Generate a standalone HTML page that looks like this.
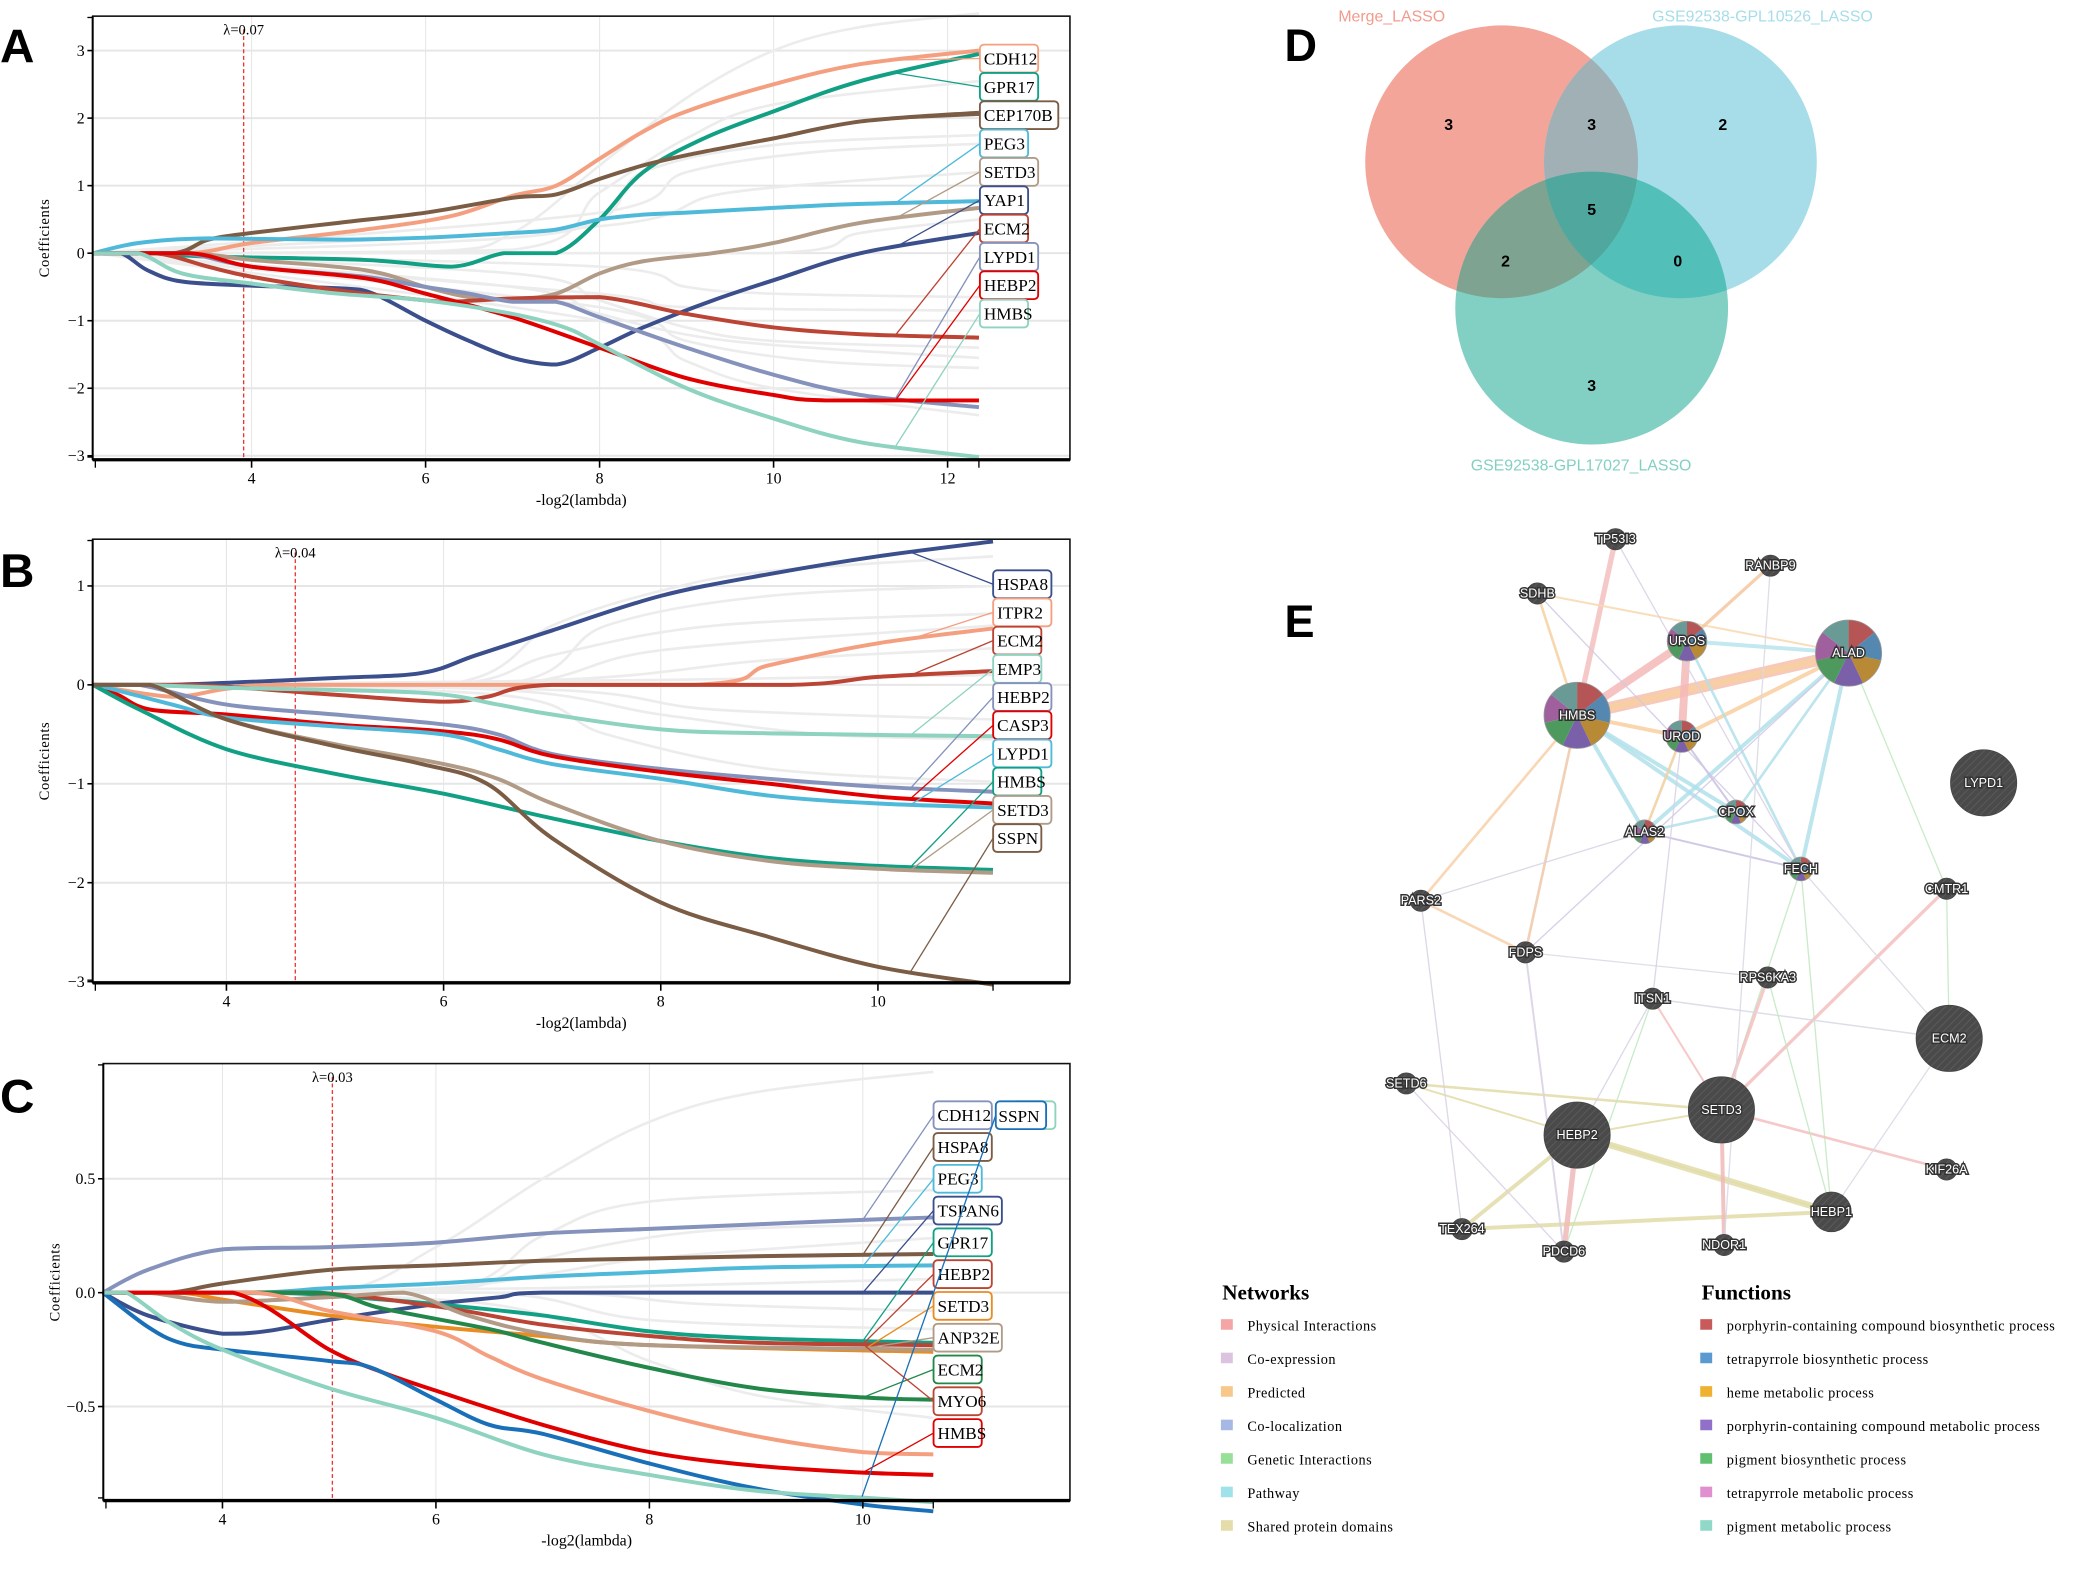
<!DOCTYPE html>
<html><head><meta charset="utf-8"><style>
html,body{margin:0;padding:0;background:#fff}
svg{display:block}
.t{font-family:"Liberation Serif",serif;fill:#000}
.s{font-family:"Liberation Sans",sans-serif}
.nl{font-family:"Liberation Sans",sans-serif;font-size:9.5px;fill:#fff;stroke:#333;stroke-width:2.2px;paint-order:stroke;text-anchor:middle;dominant-baseline:central}
</style></head><body>
<svg id="g" width="2075" height="1571" viewBox="0 0 1567 1186" xmlns="http://www.w3.org/2000/svg">
<defs>
<pattern id="hatch" width="4" height="4" patternUnits="userSpaceOnUse" patternTransform="rotate(45)">
<rect width="4" height="4" fill="#4a4a4a"/><line x1="0" y1="0" x2="0" y2="4" stroke="#5a5a5a" stroke-width="1.5"/></pattern>
<clipPath id="cR"><circle cx="1134" cy="122" r="103"/></clipPath>
<clipPath id="cB"><circle cx="1269" cy="122" r="103"/></clipPath>
<clipPath id="cG"><circle cx="1202" cy="232.5" r="103"/></clipPath>
</defs>
<g id="root"></g>
<text x="0" y="47" class="s" font-size="36" font-weight="bold">A</text>
<text x="0" y="443" class="s" font-size="36" font-weight="bold">B</text>
<text x="0" y="840" class="s" font-size="36" font-weight="bold">C</text>
<text x="970" y="46" class="s" font-size="34" font-weight="bold">D</text>
<text x="970" y="481" class="s" font-size="34" font-weight="bold">E</text>
<circle cx="1134" cy="122" r="103" fill="#f3a599"/>
<circle cx="1269" cy="122" r="103" fill="#a6dde9"/>
<circle cx="1202" cy="232.5" r="103" fill="#82d0c3"/>
<g clip-path="url(#cR)"><circle cx="1269" cy="122" r="103" fill="#a0b0b5"/><circle cx="1202" cy="232.5" r="103" fill="#7ea390"/></g>
<g clip-path="url(#cB)"><circle cx="1202" cy="232.5" r="103" fill="#52bfb9"/></g>
<g clip-path="url(#cR)"><g clip-path="url(#cB)"><circle cx="1202" cy="232.5" r="103" fill="#4fa79e"/></g></g>
<g class="s" font-size="12" font-weight="bold" text-anchor="middle">
<text x="1094" y="98">3</text><text x="1202" y="98">3</text><text x="1301" y="98">2</text>
<text x="1202" y="162">5</text><text x="1137" y="201">2</text><text x="1267" y="201">0</text><text x="1202" y="295">3</text></g>
<g class="s" font-size="12" text-anchor="middle">
<text x="1051" y="16" fill="#f29a8c">Merge_LASSO</text>
<text x="1331" y="16" fill="#a6dde9">GSE92538-GPL10526_LASSO</text>
<text x="1194" y="355" fill="#82d0c3">GSE92538-GPL17027_LASSO</text></g>
<g id="net"></g>
<g class="t" font-size="11" fill="#333">
<text x="923" y="981" font-size="16" font-weight="bold">Networks</text>
<text x="1285" y="981" font-size="16" font-weight="bold">Functions</text>
</g>
<g id="leg"></g>
</svg>
<script>
var NS="http://www.w3.org/2000/svg";
var root=document.getElementById('root');
function el(tag,at,par,txt){var e=document.createElementNS(NS,tag);for(var k in at)e.setAttribute(k,at[k]);if(txt!==undefined)e.textContent=txt;(par||root).appendChild(e);return e;}
function cl(v,a,b){var lo=Math.min(a,b),hi=Math.max(a,b);return Math.max(lo,Math.min(hi,v));}
function smooth(p){var d="M"+p[0][0].toFixed(1)+","+p[0][1].toFixed(1);for(var i=0;i<p.length-1;i++){var p0=p[i-1]||p[i],p1=p[i],p2=p[i+1],p3=p[i+2]||p2;var c1=[p1[0]+(p2[0]-p0[0])/6,p1[1]+(p2[1]-p0[1])/6],c2=[p2[0]-(p3[0]-p1[0])/6,p2[1]-(p3[1]-p1[1])/6];
 c1[1]=cl(c1[1],p1[1],p2[1]);c2[1]=cl(c2[1],p1[1],p2[1]);c1[0]=cl(c1[0],p1[0],p2[0]);c2[0]=cl(c2[0],p1[0],p2[0]);
 d+="C"+c1[0].toFixed(1)+","+c1[1].toFixed(1)+" "+c2[0].toFixed(1)+","+c2[1].toFixed(1)+" "+p2[0].toFixed(1)+","+p2[1].toFixed(1);}return d;}
function interp(pts,x){if(x<=pts[0][0])return pts[0][1];for(var i=0;i<pts.length-1;i++){if(x<=pts[i+1][0]){var t=(x-pts[i][0])/(pts[i+1][0]-pts[i][0]);return pts[i][1]+t*(pts[i+1][1]-pts[i][1]);}}return pts[pts.length-1][1];}
function panel(P){
 var X=function(x){return P.x0px+(x-P.x0)*P.sx},Y=function(y){return P.y0px-y*P.sy};
 var L=P.L,R=P.R,T=P.T,B=P.B;
 P.xt.forEach(function(v){el('line',{x1:X(v),x2:X(v),y1:T,y2:B,stroke:'#e6e6e6','stroke-width':0.8});});
 P.yt.forEach(function(v){el('line',{x1:L,x2:R,y1:Y(v),y2:Y(v),stroke:'#e6e6e6','stroke-width':1.5});});
 P.grey.forEach(function(g){el('path',{d:smooth(g.map(function(q){return[X(q[0]),Y(q[1])]})),fill:'none',stroke:'#ececec','stroke-width':2});});
 el('line',{x1:P.lam,x2:P.lam,y1:T+10,y2:B,stroke:'#e33','stroke-width':1,'stroke-dasharray':'3,2'});
 el('text',{x:P.lam,y:T+14,'font-size':11,'text-anchor':'middle',class:'t'},root,P.lamt);
 P.S.forEach(function(s){var pts=s.p.slice();if(pts[0][0]>P.xs+0.01)pts=[[P.xs,0]].concat(pts);if(pts[pts.length-1][0]<P.xe-0.01)pts.push([P.xe,pts[pts.length-1][1]]);
  el('path',{d:smooth(pts.map(function(q){return[X(q[0]),Y(q[1])]})),fill:'none',stroke:s.c,'stroke-width':3,'stroke-linejoin':'round'});});
 el('rect',{x:L,y:T,width:R-L,height:B-T,fill:'none',stroke:'#111','stroke-width':1.2});
 el('line',{x1:L,x2:R,y1:B,y2:B,stroke:'#000','stroke-width':2.5});
 el('line',{x1:L,x2:L,y1:T,y2:B,stroke:'#000','stroke-width':1.5});
 P.xt.forEach(function(v){el('line',{x1:X(v),x2:X(v),y1:B,y2:B+6,stroke:'#000','stroke-width':1.2});el('text',{x:X(v),y:B+18,'font-size':12,'text-anchor':'middle',class:'t'},root,String(v));});
 el('line',{x1:L+2,x2:L+2,y1:B,y2:B+6,stroke:'#000'});el('line',{x1:X(P.xe),x2:X(P.xe),y1:B,y2:B+6,stroke:'#000'});
 P.yt.forEach(function(v){el('line',{x1:L-4,x2:L,y1:Y(v),y2:Y(v),stroke:'#000','stroke-width':1.2});el('text',{x:L-6,y:Y(v)+4,'font-size':12,'text-anchor':'end',class:'t'},root,P.yf?P.yf(v):String(v).replace('-','\u2212'));});
 el('line',{x1:L-4,x2:L,y1:T+1,y2:T+1,stroke:'#000'});el('line',{x1:L-4,x2:L,y1:B-2,y2:B-2,stroke:'#000'});
 el('text',{x:(L+R)/2,y:B+34,'font-size':12,'text-anchor':'middle',class:'t'},root,'-log2(lambda)');
 el('text',{x:0,y:0,'font-size':11,'text-anchor':'middle',class:'t',transform:'translate('+(L-33)+','+((T+B)/2)+') rotate(-90)','letter-spacing':'0.5'},root,'Coefficients');
 P.lab.forEach(function(l,i){var ly=P.ly0+i*P.ld;var s=P.S[l.i];var yy=interp(s.p,P.cx);
  el('line',{x1:X(P.cx),y1:Y(yy),x2:P.bx,y2:ly,stroke:s.c,'stroke-width':1});});
 P.lab.forEach(function(l,i){var ly=P.ly0+i*P.ld;var s=P.S[l.i];var w=l.t.length*7.6+6;
  el('rect',{x:P.bx,y:ly-10.5,width:w,height:21,rx:3,fill:'#fff',stroke:s.c,'stroke-width':1.4});
  el('text',{x:P.bx+3,y:ly+4.5,'font-size':13,class:'t'},root,l.t);});
}
var C={salmon:'#f4a080',teal:'#12a085',brown:'#7b5c45',lb:'#4fb9d9',tan:'#b19b86',navy:'#3b4f8c',dred:'#bb4434',slate:'#8592bb',red:'#e00000',mint:'#8ed2c0',orange:'#e88c24',dgreen:'#23874a',blue:'#1a70b8'};
panel({L:70,R:808,T:12,B:347,x0:4,x0px:190,sx:65.7,y0px:191,sy:51,xs:2.17,xe:12.36,xt:[4,6,8,10,12],yt:[-3,-2,-1,0,1,2,3],lam:184,lamt:'\u03bb=0.07',
 grey:[[[2.2,0],[6,0.02],[7,0.3],[8,1.3],[9,2.3],[10,3.0],[11,3.35],[12.36,3.55]],[[2.2,0],[7,0.05],[8,0.9],[9,1.7],[10,2.2],[12.36,2.55]],[[2.2,0],[7.5,0.3],[8.5,1.2],[10,1.6],[12.36,1.75]],[[2.2,0],[8,0.6],[9,1.2],[10.5,1.5],[12.36,1.62]],[[2.2,0],[8,0.4],[9.5,0.9],[12.36,1.2]],[[2.2,0],[10,0.0],[11,0.3],[12.36,0.5]],[[2.2,0],[8,-0.2],[9,-0.5],[10,-0.6],[12.36,-0.65]],[[2.2,0],[8,-0.6],[9,-0.8],[12.36,-0.85]],[[2.2,0],[7,-0.3],[8,-0.7],[9,-1.1],[10,-1.3],[12.36,-1.4]],[[2.2,0],[7,-0.5],[8,-0.9],[9.5,-1.3],[12.36,-1.55]],[[2.2,0],[8,-0.8],[9,-1.3],[10.5,-1.6],[12.36,-1.7]],[[2.2,0],[8,-1.0],[9,-1.6],[10,-2.0],[12.36,-2.4]]],
 S:[{c:C.salmon,p:[[3.3,0],[4,0.15],[5.3,0.35],[6.3,0.55],[7,0.85],[7.5,1.0],[8,1.4],[8.5,1.8],[9,2.1],[10,2.5],[11,2.8],[12.36,3.0]]},
 {c:C.teal,p:[[2.8,0],[3.5,-0.05],[5.3,-0.1],[6.3,-0.2],[6.9,0],[7.5,0],[8,0.5],[8.5,1.2],[9.2,1.7],[10,2.1],[11,2.55],[12.36,2.95]]},
 {c:C.brown,p:[[3.1,0],[3.5,0.2],[4,0.3],[5,0.45],[6,0.6],[7,0.82],[7.5,0.87],[8,1.1],[8.5,1.3],[9,1.45],[10,1.7],[11,1.95],[12.36,2.08]]},
 {c:C.lb,p:[[2.18,0],[2.7,0.15],[3.5,0.22],[5,0.2],[6,0.23],[7,0.3],[7.5,0.35],[8,0.5],[8.5,0.57],[9,0.6],[10,0.67],[11,0.73],[12.36,0.77]]},
 {c:C.tan,p:[[3.3,0],[4,-0.1],[5.3,-0.25],[6,-0.5],[6.5,-0.65],[7,-0.68],[7.5,-0.6],[8,-0.3],[8.5,-0.12],[9.3,0],[10,0.15],[11,0.45],[12.36,0.67]]},
 {c:C.navy,p:[[2.5,0],[2.8,-0.25],[3.2,-0.42],[4,-0.48],[5,-0.52],[5.4,-0.6],[6,-1.0],[6.5,-1.3],[7,-1.55],[7.5,-1.65],[8,-1.4],[8.5,-1.1],[9.3,-0.7],[10,-0.4],[11,0],[12.36,0.3]]},
 {c:C.dred,p:[[2.9,0],[3.5,-0.2],[4,-0.35],[5,-0.55],[6,-0.7],[6.3,-0.72],[7,-0.67],[8,-0.65],[9,-0.9],[10,-1.1],[11,-1.2],[12.36,-1.25]]},
 {c:C.slate,p:[[3.2,0],[4,-0.2],[5.3,-0.35],[6,-0.5],[6.5,-0.6],[7,-0.72],[7.5,-0.72],[8,-0.95],[9,-1.4],[10,-1.8],[11,-2.1],[12.36,-2.28]]},
 {c:C.red,p:[[3.3,0],[4,-0.2],[5.3,-0.37],[6,-0.6],[7,-0.95],[8,-1.4],[9,-1.85],[10,-2.1],[10.6,-2.18],[12.36,-2.18]]},
 {c:C.mint,p:[[2.7,0],[3.2,-0.3],[4,-0.45],[5,-0.6],[6,-0.7],[7,-0.9],[7.6,-1.1],[8,-1.35],[9,-2.0],[10,-2.45],[11,-2.8],[12.36,-3.02]]}],
 cx:11.4,bx:740,ly0:44,ld:21.4,lab:[{i:0,t:'CDH12'},{i:1,t:'GPR17'},{i:2,t:'CEP170B'},{i:3,t:'PEG3'},{i:4,t:'SETD3'},{i:5,t:'YAP1'},{i:6,t:'ECM2'},{i:7,t:'LYPD1'},{i:8,t:'HEBP2'},{i:9,t:'HMBS'}]});
panel({L:70,R:808,T:407,B:742,x0:4,x0px:171,sx:82,y0px:517,sy:74.7,xs:2.77,xe:11.06,xt:[4,6,8,10],yt:[-3,-2,-1,0,1],lam:223,lamt:'\u03bb=0.04',
 grey:[[[2.8,0],[6,0],[7,0.6],[8,0.95],[9,1.15],[11.06,1.3]],[[2.8,0],[6.5,0],[7.5,0.6],[9,0.9],[11.06,1.0]],[[2.8,0],[6,0],[7,0.3],[8.5,0.6],[11.06,0.72]],[[2.8,0],[6.5,0],[8,0.35],[11.06,0.6]],[[2.8,0],[7,0.05],[9,0.25],[11.06,0.37]],[[2.8,0],[8,0.05],[11.06,0.1]],[[2.8,0],[7,-0.05],[8.5,-0.25],[11.06,-0.35]],[[2.8,0],[6.5,-0.05],[8,-0.3],[9.5,-0.5],[11.06,-0.55]],[[2.8,0],[6.5,-0.1],[7.5,-0.5],[9,-0.85],[11.06,-0.98]]],
 S:[{c:C.navy,p:[[3.5,0],[5,0.07],[5.8,0.12],[6.3,0.3],[7,0.55],[8,0.9],[9,1.12],[10,1.3],[11.06,1.45]]},
 {c:C.salmon,p:[[2.77,0],[3.5,-0.12],[4,-0.04],[4.5,0],[8.3,0],[9,0.2],[10,0.42],[11.06,0.57]]},
 {c:C.dred,p:[[2.77,0],[3.7,0],[5,-0.1],[6,-0.17],[6.4,-0.12],[7,0],[9.2,0],[10,0.08],[11.06,0.14]]},
 {c:C.mint,p:[[3.2,0],[4,-0.03],[5.8,-0.08],[6.5,-0.2],[7,-0.3],[8,-0.45],[9,-0.49],[11.06,-0.52]]},
 {c:C.slate,p:[[3.2,0],[4,-0.2],[5,-0.3],[6,-0.4],[6.5,-0.5],[7,-0.7],[8,-0.85],[9,-0.95],[10,-1.03],[11.06,-1.08]]},
 {c:C.red,p:[[2.77,0],[3,-0.1],[3.3,-0.25],[4,-0.3],[5,-0.4],[6,-0.47],[6.5,-0.55],[7,-0.72],[8,-0.88],[9,-1.0],[10,-1.13],[11.06,-1.2]]},
 {c:C.lb,p:[[2.8,0],[3.5,-0.2],[4,-0.33],[5,-0.42],[6,-0.5],[6.5,-0.65],[7,-0.8],[8,-0.95],[9,-1.12],[10,-1.2],[11.06,-1.24]]},
 {c:C.teal,p:[[2.77,0],[3.2,-0.25],[4,-0.65],[5,-0.9],[6,-1.1],[7,-1.35],[8,-1.58],[9,-1.75],[10,-1.83],[11.06,-1.87]]},
 {c:C.tan,p:[[3.3,0],[4,-0.35],[5,-0.6],[6,-0.8],[6.5,-0.95],[7,-1.2],[8,-1.58],[9,-1.78],[10,-1.86],[11.06,-1.9]]},
 {c:C.brown,p:[[3.3,0],[4,-0.35],[5,-0.62],[5.8,-0.8],[6.4,-1.0],[7,-1.55],[8,-2.2],[9,-2.55],[10,-2.85],[11.06,-3.03]]}],
 cx:10.3,bx:750,ly0:441,ld:21.3,lab:[{i:0,t:'HSPA8'},{i:1,t:'ITPR2'},{i:2,t:'ECM2'},{i:3,t:'EMP3'},{i:4,t:'HEBP2'},{i:5,t:'CASP3'},{i:6,t:'LYPD1'},{i:7,t:'HMBS'},{i:8,t:'SETD3'},{i:9,t:'SSPN'}]});
panel({L:78,R:808,T:803,B:1133,x0:4,x0px:168,sx:80.6,y0px:976,sy:172,xs:2.88,xe:10.66,xt:[4,6,8,10],yt:[-0.5,0,0.5],yf:function(v){return (v<0?'\u22120.5':v.toFixed(1));},lam:251,lamt:'\u03bb=0.03',
 grey:[[[2.9,0],[5,0],[6,0.2],[7,0.5],[8,0.75],[9,0.88],[10.66,0.97]],[[2.9,0],[6,0],[7,0.25],[8,0.4],[10.66,0.45]],[[2.9,0],[6,0],[7,0.15],[8.5,0.27],[10.66,0.3]],[[2.9,0],[6,0.02],[8,0.15],[10.66,0.24]],[[2.9,0],[7,0],[8.5,-0.05],[10.66,-0.08]],[[2.9,0],[6.5,0],[8,-0.12],[10.66,-0.16]],[[2.9,0],[6.5,-0.05],[8,-0.3],[9,-0.45],[10.66,-0.55]],[[2.9,0],[7,0.02],[10.66,0.06]]],
 S:[{c:C.slate,p:[[2.88,0],[3.3,0.1],[4,0.19],[5,0.2],[6,0.22],[7,0.26],[8,0.28],[9,0.3],[10,0.32],[10.66,0.33]]},
 {c:C.brown,p:[[3.5,0],[4,0.04],[5,0.1],[6,0.12],[7,0.14],[8,0.15],[9,0.16],[10.66,0.17]]},
 {c:C.lb,p:[[4.3,0],[5,0.02],[6,0.04],[7,0.07],[8,0.09],[9,0.11],[10.66,0.12]]},
 {c:C.navy,p:[[2.88,0],[3.3,-0.1],[4,-0.18],[4.4,-0.17],[5,-0.12],[6,-0.05],[6.6,-0.02],[7,0],[10.66,0]]},
 {c:C.teal,p:[[4.5,0],[5.5,-0.03],[6,-0.05],[7,-0.1],[8,-0.17],[9,-0.2],[10.66,-0.22]]},
 {c:C.dred,p:[[4.8,0],[6,-0.06],[7,-0.14],[8,-0.19],[9,-0.22],[10.66,-0.23]]},
 {c:C.orange,p:[[3.6,0],[4,-0.03],[5,-0.1],[6,-0.15],[7,-0.19],[8,-0.23],[10.66,-0.26]]},
 {c:C.tan,p:[[3.3,0],[4,-0.04],[5,-0.02],[5.7,0],[6.3,-0.1],[7,-0.18],[8,-0.23],[10.66,-0.25]]},
 {c:C.dgreen,p:[[3.3,0],[4.9,0],[5.5,-0.07],[6.5,-0.16],[7,-0.22],[8,-0.33],[9,-0.42],[10,-0.46],[10.66,-0.47]]},
 {c:C.salmon,p:[[4.3,0],[5,-0.08],[6,-0.17],[6.5,-0.28],[7,-0.38],[8,-0.52],[9,-0.63],[10,-0.7],[10.66,-0.71]]},
 {c:C.red,p:[[4.1,0],[5,-0.25],[5.5,-0.35],[6,-0.43],[7,-0.58],[8,-0.7],[9,-0.76],[10,-0.79],[10.66,-0.8]]},
 {c:C.blue,p:[[2.88,0],[3.3,-0.15],[3.6,-0.22],[4,-0.25],[5,-0.3],[5.4,-0.33],[6,-0.47],[6.5,-0.58],[7,-0.62],[8,-0.75],[9,-0.86],[10,-0.93],[10.66,-0.96]]},
 {c:C.mint,p:[[3.1,0],[3.5,-0.13],[4,-0.25],[5,-0.42],[6,-0.55],[7,-0.71],[8,-0.8],[9,-0.87],[10,-0.9],[10.66,-0.92]]}],
 cx:10,bx:705,ly0:842,ld:24,lab:[{i:0,t:'CDH12'},{i:1,t:'HSPA8'},{i:2,t:'PEG3'},{i:3,t:'TSPAN6'},{i:4,t:'GPR17'},{i:5,t:'HEBP2'},{i:6,t:'SETD3'},{i:7,t:'ANP32E'},{i:8,t:'ECM2'},{i:5,t:'MYO6'},{i:10,t:'HMBS'}]});
el('line',{x1:651,y1:1130,x2:752,y2:842,stroke:C.blue,'stroke-width':1});
el('rect',{x:765,y:831.5,width:32,height:21,rx:3,fill:'#fff',stroke:C.mint,'stroke-width':1.4});
el('text',{x:785,y:847,'font-size':13,class:'t'},root,'1');
el('rect',{x:752,y:831.5,width:38,height:21,rx:3,fill:'#fff',stroke:C.blue,'stroke-width':1.4});
el('text',{x:754,y:847,'font-size':13,class:'t'},root,'SSPN');

var net=document.getElementById('net');
var N={TP53I3:[1220,407,8],RANBP9:[1337,427,8],SDHB:[1161,448,8],UROS:[1274,484,15],ALAD:[1396,493,25],HMBS:[1191,540,25],UROD:[1270,556,12],CPOX:[1311,613,8],ALAS2:[1242,628,8],FECH:[1360,656,8],LYPD1:[1498,591,25],CMTR1:[1470,671,8],PARS2:[1073,680,8],FDPS:[1152,719,8],RPS6KA3:[1335,738,8],ITSN1:[1248,754,8],ECM2:[1472,784,25],SETD6:[1062,818,8],SETD3:[1300,838,25],HEBP2:[1191,857,25],KIF26A:[1470,883,8],HEBP1:[1383,915,15],TEX264:[1104,928,8],PDCD6:[1181,945,8],NDOR1:[1302,940,8]};
var E=[['HMBS','ALAD','#f6bfae',9],['HMBS','ALAD','#f8cfa0',5],['HMBS','UROS','#f4b8b8',6],['HMBS','UROD','#f8cfa0',3],['UROS','UROD','#f4b8b8',6],['UROD','ALAD','#f8cfa0',3],['TP53I3','HMBS','#f4c0c0',4],['SDHB','HMBS','#f8d0a0',2],['SDHB','ALAD','#f8d8b0',1.5],['RANBP9','UROS','#f4c8a0',2.5],['UROS','ALAD','#b8e4ec',3],['HMBS','CPOX','#b0e0ea',3],['HMBS','FECH','#b0e0ea',3],['HMBS','ALAS2','#b0e0ea',3],['ALAD','ALAS2','#b0e0ea',3],['ALAD','FECH','#b0e0ea',3],['ALAD','CPOX','#b0e0ea',2],['UROS','FECH','#b0e0ea',2],['UROD','CPOX','#c8c0e0',1.5],['UROD','ALAS2','#f0d0a0',2],['CPOX','ALAS2','#b0e0ea',2],['ALAS2','FECH','#c8c0e0',1.5],['HMBS','PARS2','#f8d0a8',2],['HMBS','FDPS','#f0c8a8',2],['PARS2','FDPS','#f8d0a8',2],['FDPS','ALAD','#d0c8e4',1],['ALAS2','PARS2','#d8d0e4',1],['SDHB','FECH','#d0c8e4',1],['TP53I3','FECH','#d8d0e4',1],['ALAD','CMTR1','#c0e8c0',1],['CMTR1','ECM2','#c0e8c0',1],['FECH','HEBP1','#c0e8c0',1],['FECH','SETD3','#c0e8c0',1],['CMTR1','SETD3','#f4c0c0',2.5],['RPS6KA3','SETD3','#f4c0c0',2.5],['ITSN1','SETD3','#f4c0c0',1.5],['ITSN1','ECM2','#d8d8e4',1.2],['FDPS','RPS6KA3','#d8d8e4',1],['SETD6','SETD3','#e2dca8',2],['SETD6','HEBP1','#e2dca8',1.5],['HEBP2','HEBP1','#e2dca8',5],['TEX264','HEBP1','#e2dca8',3],['TEX264','HEBP2','#e2dca8',3],['HEBP2','PDCD6','#f0b8b8',4],['SETD3','NDOR1','#f0b8b8',3],['SETD3','KIF26A','#f4c0c0',2],['ITSN1','HEBP2','#d8d0e4',1],['ITSN1','PDCD6','#c0e8c0',1],['FDPS','PDCD6','#d8d0e4',1.5],['PARS2','TEX264','#d8d0e4',1],['SETD6','PDCD6','#d8d0e4',1],['ECM2','HEBP1','#d8d8e4',1],['RPS6KA3','HEBP1','#c0e8c0',1],['FECH','ECM2','#d8d8e4',1],['UROD','ITSN1','#d8d0e4',1],['RANBP9','NDOR1','#d8d8e4',1],['HEBP2','SETD3','#e2dca8',1.5]];
E.forEach(function(e){var a=N[e[0]],b=N[e[1]];el('line',{x1:a[0],y1:a[1],x2:b[0],y2:b[1],stroke:e[2],'stroke-width':e[3],'stroke-opacity':0.85},net);});
var pieC=['#b55555','#5588b0','#b88a35','#7a60a8','#4e9a5e','#a0609e','#6a9a96'];
var pies={UROS:1,ALAD:1,HMBS:1,UROD:1,CPOX:1,ALAS2:1,FECH:1};
for(var k in N){var n=N[k];
 if(pies[k]){var r=n[2]+(n[2]<10?1:0);for(var i=0;i<7;i++){var a0=-Math.PI/2+i*2*Math.PI/7,a1=a0+2*Math.PI/7;
  var d='M'+n[0]+','+n[1]+'L'+(n[0]+r*Math.cos(a0))+','+(n[1]+r*Math.sin(a0))+'A'+r+','+r+' 0 0 1 '+(n[0]+r*Math.cos(a1))+','+(n[1]+r*Math.sin(a1))+'Z';
  el('path',{d:d,fill:pieC[i]},net);} el('circle',{cx:n[0],cy:n[1],r:r,fill:'none',stroke:'#999','stroke-width':0.6},net);}
 else el('circle',{cx:n[0],cy:n[1],r:n[2],fill:'url(#hatch)',stroke:'#444','stroke-width':0.6},net);
 el('text',{x:n[0],y:n[1],class:'nl'},net,k);}
var leg=document.getElementById('leg');
var nw=[['#f4a6a6','Physical Interactions'],['#dcc4e0','Co-expression'],['#f8c88a','Predicted'],['#a8b8e4','Co-localization'],['#98e098','Genetic Interactions'],['#a0e2ea','Pathway'],['#e4dcaa','Shared protein domains']];
var fn=[['#c85a5a','porphyrin-containing compound biosynthetic process'],['#5a9ad0','tetrapyrrole biosynthetic process'],['#f0b030','heme metabolic process'],['#9070c8','porphyrin-containing compound metabolic process'],['#60c070','pigment biosynthetic process'],['#e090d0','tetrapyrrole metabolic process'],['#90d8c8','pigment metabolic process']];
nw.forEach(function(q,i){var y=1001+i*25.3;el('rect',{x:922,y:y-5,width:9,height:8,fill:q[0]},leg);el('text',{x:942,y:y+3.5,'font-size':10.8,'letter-spacing':'0.35',class:'t',fill:'#333'},leg,q[1]);});
fn.forEach(function(q,i){var y=1001+i*25.3;el('rect',{x:1284,y:y-5,width:9,height:8,fill:q[0]},leg);el('text',{x:1304,y:y+3.5,'font-size':10.8,'letter-spacing':'0.35',class:'t',fill:'#333'},leg,q[1]);});
</script>
</body></html>
